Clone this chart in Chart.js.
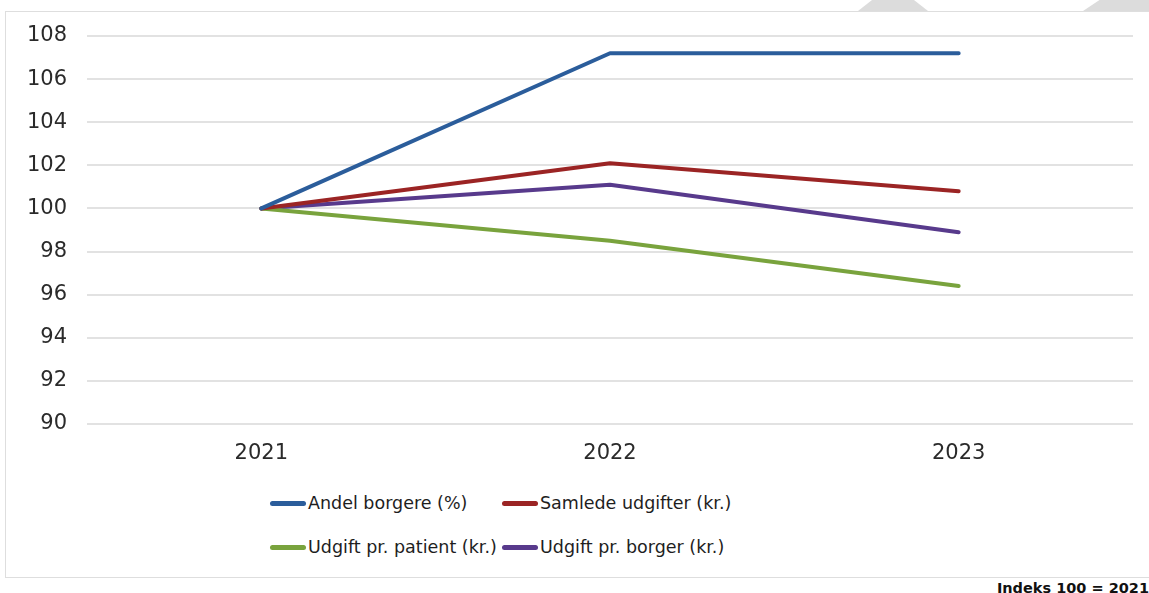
<!DOCTYPE html>
<html>
<head>
<meta charset="utf-8">
<script src="https://cdn.jsdelivr.net/npm/chart.js@4"></script>
<style>
  html, body { margin: 0; padding: 0; background: #fff; overflow: hidden; }
  body { width: 1149px; height: 593px; position: relative; font-family: "DejaVu Sans", Verdana, sans-serif; }
  .frame { position: absolute; left: 5px; top: 11px; width: 1150px; height: 565px; border: 1px solid #dedede; border-right: none; }
  .wrap { position: absolute; left: 5px; top: 11px; width: 1144px; height: 470px; }
  .wrap canvas { display: block; }
  .shape { position: absolute; top: 0; height: 11px; background: #dcdcdc; }
  #legend { position: absolute; left: 270px; top: 488px; width: 470px; display: grid; grid-template-columns: 232px 238px; row-gap: 14px; }
  .item { display: flex; align-items: center; height: 30px; font-size: 17.5px; color: #1e1e1e; white-space: nowrap; }
  .swatch { width: 36px; height: 5px; border-radius: 3px; margin-right: 2px; }
  .note { position: absolute; right: 0; top: 580px; font-size: 14.5px; font-weight: bold; color: #111; }
</style>
</head>
<body>
<div class="shape" style="left:858px;width:70px;clip-path:polygon(20% 0,80% 0,100% 100%,0 100%);"></div>
<div class="shape" style="left:1083px;width:66px;clip-path:polygon(0 100%,25% 0,100% 0,100% 100%);"></div>
<div class="frame"></div>
<div class="wrap"><canvas id="indexChart" width="1144" height="470"></canvas></div>
<div id="legend"></div>
<div class="note">Indeks 100 = 2021</div>
<script>
const years = ['2021', '2022', '2023'];
const andelBorgere = [100, 107.2, 107.2];
const samledeUdgifter = [100, 102.1, 100.8];
const udgiftPatient = [100, 98.5, 96.4];
const udgiftBorger = [100, 101.1, 98.9];
const yTicks = [90, 92, 94, 96, 98, 100, 102, 104, 106, 108];

const seriesNames = ['Andel borgere (%)', 'Samlede udgifter (kr.)', 'Udgift pr. patient (kr.)', 'Udgift pr. borger (kr.)'];
const seriesColors = ['#2b5d9b', '#9b2424', '#79a33d', '#583a8c'];
const seriesData = [andelBorgere, samledeUdgifter, udgiftPatient, udgiftBorger];

let datasets = seriesData.map(function (values, i) {
    return {
        label: seriesNames[i],
        data: values,
        borderColor: seriesColors[i],
        backgroundColor: seriesColors[i],
        borderWidth: 4,
        pointRadius: 0,
        tension: 0,
        borderCapStyle: 'round',
        borderJoinStyle: 'round'
    };
});

let ctx = document.getElementById('indexChart').getContext('2d');
let myChart = new Chart(ctx, {
    type: 'line',
    data: { labels: years, datasets: datasets },
    options: {
        responsive: false,
        animation: false,
        devicePixelRatio: 1,
        layout: { padding: { top: 25, right: 16, left: 0, bottom: 0 } },
        plugins: {
            legend: { display: false },
            tooltip: { enabled: false }
        },
        scales: {
            x: {
                offset: true,
                grid: { display: false, drawTicks: false },
                border: { display: false },
                ticks: {
                    padding: 17,
                    color: '#2a2a2a',
                    font: { family: 'DejaVu Sans', size: 21 }
                },
                afterFit: function (scale) { scale.height = 57; }
            },
            y: {
                min: 90,
                max: 108,
                afterBuildTicks: function (scale) {
                    scale.ticks = yTicks.map(function (v) { return { value: v }; });
                },
                grid: { color: '#e2e2e2', lineWidth: 2, drawTicks: false },
                border: { display: false },
                ticks: {
                    padding: 20,
                    color: '#2a2a2a',
                    font: { family: 'DejaVu Sans', size: 21 }
                },
                // fixed axis width, and no extra room above the top label
                afterFit: function (scale) {
                    scale.width = 82;
                    scale.paddingTop = 0;
                    scale.paddingBottom = 0;
                }
            }
        }
    }
});

// html legend, two per row like the original
let legendBox = document.getElementById('legend');
datasets.forEach(function (ds) {
    let item = document.createElement('div');
    item.className = 'item';
    let sw = document.createElement('span');
    sw.className = 'swatch';
    sw.style.background = ds.borderColor;
    item.appendChild(sw);
    item.appendChild(document.createTextNode(ds.label));
    legendBox.appendChild(item);
});
</script>
</body>
</html>
